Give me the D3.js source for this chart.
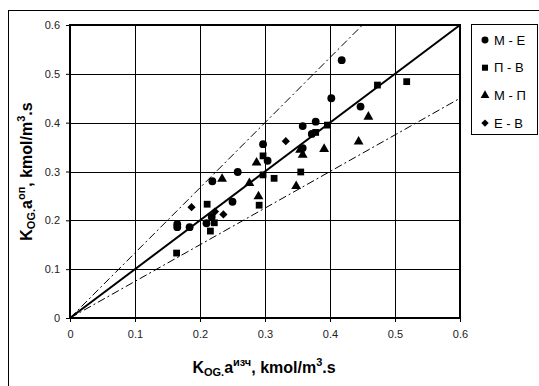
<!DOCTYPE html>
<html>
<head>
<meta charset="utf-8">
<script src="https://cdn.jsdelivr.net/npm/d3@7"></script>
<style>
  body { margin: 0; background: #fff; }
  svg { display: block; font-family: "Liberation Sans", Arial, sans-serif; }
</style>
</head>
<body>
<div id="chart"></div>
<script>
// ticks shared by both axes
const axisTicks = [0, 0.1, 0.2, 0.3, 0.4, 0.5, 0.6];

const seriesME = [
  [0.165, 0.192], [0.165, 0.186], [0.184, 0.186], [0.210, 0.194], [0.218, 0.207],
  [0.219, 0.280], [0.250, 0.238], [0.258, 0.299], [0.297, 0.356], [0.304, 0.322],
  [0.358, 0.348], [0.358, 0.393], [0.372, 0.377], [0.378, 0.402], [0.402, 0.450],
  [0.418, 0.528], [0.447, 0.433]
];
const seriesPV = [
  [0.164, 0.133], [0.211, 0.233], [0.216, 0.178], [0.222, 0.195], [0.291, 0.231],
  [0.297, 0.332], [0.297, 0.293], [0.314, 0.286], [0.355, 0.299], [0.378, 0.380],
  [0.396, 0.395], [0.473, 0.477], [0.518, 0.484]
];
const seriesMP = [
  [0.234, 0.285], [0.276, 0.276], [0.287, 0.318], [0.290, 0.249], [0.348, 0.270],
  [0.354, 0.344], [0.358, 0.334], [0.391, 0.346], [0.444, 0.361], [0.459, 0.412]
];
const seriesEV = [
  [0.187, 0.227], [0.223, 0.218], [0.236, 0.212], [0.332, 0.362]
];

// reference lines: y = k * x
const refSlopes = [1, 1 / 0.75, 0.75];

const series = [
  { name: "М - Е", data: seriesME, symbol: d3.symbolCircle, size: 48, rot: 0 },
  { name: "П - В", data: seriesPV, symbol: d3.symbolSquare, size: 46, rot: 0 },
  { name: "М - П", data: seriesMP, symbol: d3.symbolTriangle, size: 42, rot: 0 },
  { name: "Е - В", data: seriesEV, symbol: d3.symbolSquare, size: 34, rot: 45 }
];

const width = 539, height = 386;
const plot = { left: 70, right: 460, top: 25, bottom: 318 };

const svg = d3.select("#chart").append("svg")
  .attr("width", width)
  .attr("height", height);

// outer chart frame (runs off the right and bottom edges)
svg.append("rect")
  .attr("x", 8.5).attr("y", 10.5)
  .attr("width", 560).attr("height", 400)
  .attr("fill", "none").attr("stroke", "#000").attr("stroke-width", 1);

const x = d3.scaleLinear().domain([0, 0.6]).range([plot.left, plot.right]);
const y = d3.scaleLinear().domain([0, 0.6]).range([plot.bottom, plot.top]);

// grid
const grid = svg.append("g").attr("shape-rendering", "crispEdges");
grid.selectAll(".vg").data(axisTicks.slice(1, -1)).enter().append("line")
  .attr("x1", d => Math.round(x(d)) + 0.5).attr("x2", d => Math.round(x(d)) + 0.5)
  .attr("y1", plot.top).attr("y2", plot.bottom)
  .attr("stroke", "#000");
grid.selectAll(".hg").data(axisTicks.slice(1, -1)).enter().append("line")
  .attr("y1", d => Math.round(y(d)) + 0.5).attr("y2", d => Math.round(y(d)) + 0.5)
  .attr("x1", plot.left).attr("x2", plot.right)
  .attr("stroke", "#000");

// axes
const fmt = d => d === 0 ? "0" : d3.format(".1f")(d);
const xAxis = svg.append("g")
  .attr("transform", `translate(0,${plot.bottom})`)
  .call(d3.axisBottom(x).tickValues(axisTicks).tickFormat(fmt).tickSize(4).tickPadding(8));
const yAxis = svg.append("g")
  .attr("transform", `translate(${plot.left},0)`)
  .call(d3.axisLeft(y).tickValues(axisTicks).tickFormat(fmt).tickSize(4).tickPadding(6));
[xAxis, yAxis].forEach(a => {
  a.select(".domain").remove();
  a.selectAll("text").attr("font-size", 11).attr("fill", "#222")
    .attr("font-family", "'Liberation Sans', Arial, sans-serif");
  a.selectAll("line").attr("stroke", "#000");
});

// reference lines
const lineGen = d3.line().x(d => x(d[0])).y(d => y(d[1]));
refSlopes.forEach((k, i) => {
  const xEnd = Math.min(0.6, 0.6 / k);
  svg.append("path")
    .datum([[0, 0], [xEnd, k * xEnd]])
    .attr("d", lineGen)
    .attr("fill", "none")
    .attr("stroke", "#000")
    .attr("stroke-width", i === 0 ? 2 : 1)
    .attr("stroke-dasharray", i === 0 ? null : "8,3,2,3");
});

// plot frame
svg.append("rect")
  .attr("x", plot.left).attr("y", plot.top)
  .attr("width", plot.right - plot.left).attr("height", plot.bottom - plot.top)
  .attr("fill", "none").attr("stroke", "#000").attr("stroke-width", 2);

// points
series.forEach(s => {
  svg.append("g").selectAll("path")
    .data(s.data).enter().append("path")
    .attr("transform", d => `translate(${x(d[0])},${y(d[1])}) rotate(${s.rot})`)
    .attr("d", d3.symbol().type(s.symbol).size(s.size))
    .attr("fill", "#000");
});

// legend
const legend = svg.append("g");
legend.append("rect")
  .attr("x", 471.5).attr("y", 24.5).attr("width", 66).attr("height", 110)
  .attr("fill", "#fff").attr("stroke", "#000");
const items = legend.selectAll(".item").data(series).enter().append("g")
  .attr("transform", (d, i) => `translate(485,${40 + i * 27.7})`);
items.append("path")
  .attr("transform", d => `rotate(${d.rot})`)
  .attr("d", d => d3.symbol().type(d.symbol).size(d.size * 0.8)())
  .attr("fill", "#000");
items.append("text")
  .attr("x", 9).attr("dy", "0.36em")
  .attr("font-size", 13)
  .text(d => d.name);

// axis titles
function title(sel, sup) {
  sel.append("tspan").text("K");
  sel.append("tspan").attr("font-size", 11).attr("dy", 3).text("OG.");
  sel.append("tspan").attr("dy", -3).text("a");
  sel.append("tspan").attr("font-size", 11).attr("dy", -7).text(sup);
  sel.append("tspan").attr("dy", 7).text(", kmol/m");
  sel.append("tspan").attr("font-size", 11).attr("dy", -7).text("3");
  sel.append("tspan").attr("dy", 7).text(".s");
}
const xt = svg.append("text")
  .attr("x", (plot.left + plot.right) / 2 - 1).attr("y", 373)
  .attr("text-anchor", "middle").attr("font-size", 16).attr("font-weight", "bold");
title(xt, "изч");

const yt = svg.append("text")
  .attr("transform", `translate(32,${(plot.top + plot.bottom) / 2}) rotate(-90)`)
  .attr("text-anchor", "middle").attr("font-size", 16).attr("font-weight", "bold");
title(yt, "оп");
</script>
</body>
</html>
